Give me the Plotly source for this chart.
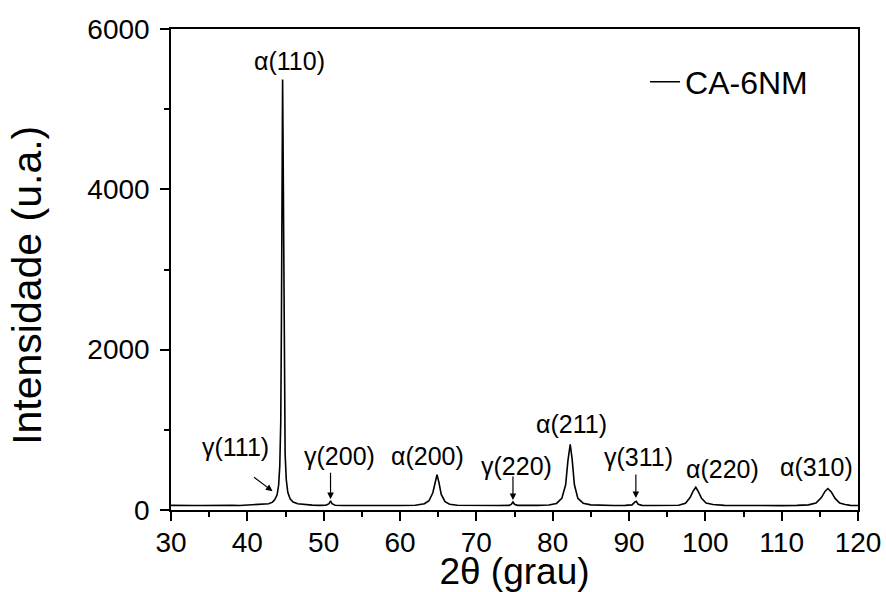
import plotly.graph_objects as go

# ---- data ----
two_theta = [30, 31, 32, 33, 34, 35, 36, 37, 38, 39, 40, 41, 42, 42.8, 43.3, 43.6, 43.9,
             44.1, 44.25, 44.38, 44.47, 44.55, 44.62, 44.68, 44.76, 44.85, 44.95, 45.1,
             45.3, 45.6, 46.0, 46.6, 47.5, 48.5, 49.5, 50.3, 50.7, 50.9, 51.1, 51.5, 52.5,
             54, 56, 58, 60, 62, 63.2, 63.8, 64.3, 64.6, 64.85, 65.1, 65.4, 65.9, 66.5,
             67.5, 69, 71, 73, 74.3, 74.6, 74.8, 75.0, 75.4, 76.5, 78, 79.5, 80.5, 81.2,
             81.7, 82.0, 82.3, 82.55, 82.85, 83.3, 84.0, 85, 86.5, 88, 89.5, 90.4, 90.75,
             90.95, 91.2, 91.7, 93, 95, 96.5, 97.4, 98.0, 98.4, 98.75, 99.1, 99.5, 100.1,
             101, 102.5, 104, 106, 108, 110, 112, 113.5, 114.5, 115.2, 115.7, 116.05,
             116.5, 117.0, 117.6, 118.3, 119, 120]
intensity = [58, 55, 59, 56, 57, 59, 55, 58, 60, 57, 61, 63, 68, 78, 98, 130, 190,
             310, 550, 1100, 2400, 4300, 5370, 4600, 2800, 1400, 700, 380,
             220, 140, 100, 78, 66, 61, 58, 60, 78, 115, 78, 60, 56,
             58, 55, 57, 56, 60, 78, 115, 215, 355, 440, 345, 195, 105, 72,
             60, 57, 55, 56, 58, 72, 100, 72, 58, 56, 58, 62, 82, 145,
             315, 615, 820, 635, 315, 145, 85, 64, 58, 56, 58, 64, 98,
             108, 72, 58, 56, 55, 60, 84, 155, 235, 283, 225, 145, 88,
             68, 58, 56, 54, 56, 55, 58, 64, 88, 155, 235, 268,
             225, 145, 88, 68, 58, 56]

series_name = "CA-6NM"
peak_labels = ["α(110)", "γ(111)", "γ(200)", "α(200)", "γ(220)", "α(211)", "γ(311)", "α(220)", "α(310)"]
x_ticks = [30, 40, 50, 60, 70, 80, 90, 100, 110, 120]
y_ticks = [0, 2000, 4000, 6000]
x_title = "2θ (grau)"
y_title = "Intensidade (u.a.)"

# ---- layout/styling ----
FONT = "Liberation Sans, Arial, sans-serif"
label_pos = [(45.5, 5595), (38.5, 782), (52.1, 670), (63.6, 670), (75.2, 545),
             (82.5, 1069), (91.3, 657), (102.2, 507), (114.5, 532)]
# arrows: (tip x, tip y, ax px, ay px)
arrows = [(43.3, 235, -20, -15), (50.9, 135, 0, -28), (74.8, 125, 0, -25), (90.9, 150, 0, -25)]

fig = go.Figure()
fig.add_trace(go.Scatter(x=two_theta, y=intensity, mode="lines", name=series_name,
                         line=dict(color="black", width=1.6)))

for txt, (lx, ly) in zip(peak_labels, label_pos):
    fig.add_annotation(x=lx, y=ly, text=txt, showarrow=False,
                       font=dict(family=FONT, size=25, color="black"))
for tx, ty, axp, ayp in arrows:
    fig.add_annotation(x=tx, y=ty, text="", showarrow=True, ax=axp, ay=ayp,
                       arrowhead=2, arrowsize=1.1, arrowwidth=1.2, arrowcolor="black",
                       standoff=0, startstandoff=0)

# y-axis title placed as a rotated annotation for exact positioning
fig.add_annotation(xref="paper", yref="paper", x=-0.2096, y=0.466, text=y_title,
                   textangle=-90, showarrow=False, xanchor="center", yanchor="middle",
                   font=dict(family=FONT, size=41, color="black"))

axis_common = dict(showline=True, linecolor="black", linewidth=1.5, mirror=True,
                   ticks="outside", ticklen=9, tickwidth=1.5, tickcolor="black",
                   showgrid=False, zeroline=False, automargin=False,
                   tickfont=dict(family=FONT, size=28, color="black"))

fig.update_layout(
    width=886, height=592,
    margin=dict(l=171, r=28, t=29, b=82),
    paper_bgcolor="white", plot_bgcolor="white",
    showlegend=True,
    legend=dict(x=0.69, y=0.89, xanchor="left", yanchor="middle",
                bgcolor="rgba(0,0,0,0)", font=dict(family=FONT, size=32, color="black")),
    xaxis=dict(range=[30, 120], tickvals=x_ticks, ticklabelstandoff=-2,
               minor=dict(dtick=5, ticks="outside", ticklen=5, tickwidth=1.5, tickcolor="black"),
               title=dict(text=x_title, standoff=1, font=dict(family=FONT, size=37, color="black")),
               **axis_common),
    yaxis=dict(range=[0, 6000], tickvals=y_ticks, ticklabelstandoff=5,
               minor=dict(dtick=1000, ticks="outside", ticklen=5, tickwidth=1.5, tickcolor="black"),
               **axis_common),
)

fig.write_html("out.html", config={"displayModeBar": False},
               post_script="document.body.style.margin='0';document.body.style.overflow='hidden';")
